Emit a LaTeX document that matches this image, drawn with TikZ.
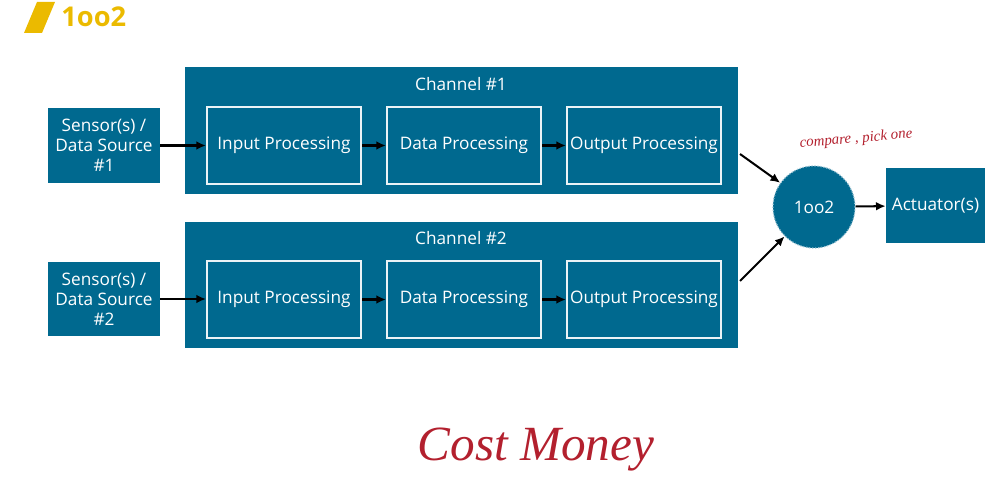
\documentclass[tikz,border=0pt]{standalone}
\usepackage{fontspec}
\setmainfont{Open Sans}
\newfontfamily\handfont{Liberation Serif}
\usetikzlibrary{arrows.meta}
\definecolor{chanblue}{HTML}{00698F}
\definecolor{titleyellow}{HTML}{EBBA00}
\definecolor{inkred}{HTML}{B3202E}

\begin{document}
\begin{tikzpicture}[%
  x=0.02cm, y=-0.02cm,
  every node/.style={font=\fontsize{9.8}{11.5}\selectfont, text=white, align=center, inner sep=0pt},
  chan/.style={fill=chanblue, minimum width=11.06cm, minimum height=2.54cm},
  stage/.style={draw=white!92!chanblue, line width=1.2pt, fill=chanblue, minimum width=3.08cm, minimum height=1.54cm},
  source/.style={fill=chanblue, minimum width=2.24cm, minimum height=1.5cm},
  vote/.style={circle, fill=chanblue, draw=white!55!chanblue, densely dotted, line width=0.7pt, minimum size=1.64cm},
  flow/.style={-{Latex[length=5.5pt,width=5pt]}, line width=1.15pt, black},
  ink/.style={text=inkred, font=\handfont\itshape}]
\useasboundingbox (0,0) rectangle (1004,496);
\fill[titleyellow] (37,2) -- (55,2) -- (42,33) -- (24,33) -- cycle;
\node[text=titleyellow, font=\fontsize{15.5}{17}\selectfont\bfseries, anchor=west] (title) at (61,17) {1oo2};
\node[chan] (chanA) at (461.5,130.5) {};
\node[chan] (chanB) at (461.5,285) {};
\node (labA) at (461,84) {Channel \#1};
\node (labB) at (461,238) {Channel \#2};
\node[source] (sensA) at (104,145.5) {Sensor(s) /\\Data Source\\\#1};
\node[source] (sensB) at (104,299) {Sensor(s) /\\Data Source\\\#2};
\node[stage] (inA) at (284,145.5) {Input Processing};
\node[stage] (dataA) at (464,145.5) {Data Processing};
\node[stage] (outA) at (644,145.5) {Output Processing};
\node[stage] (inB) at (284,299.5) {Input Processing};
\node[stage] (dataB) at (464,299.5) {Data Processing};
\node[stage] (outB) at (644,299.5) {Output Processing};
\node[vote] (vote) at (814,207) {};
\node (votelab) at (vote) {1oo2};
\node[fill=chanblue, minimum width=1.98cm, minimum height=1.5cm] (act) at (935.5,205.5) {Actuator(s)};
\coordinate (fromA) at (740,154);
\coordinate (fromB) at (740,281);
\draw[flow] (sensA) -- (inA);
\draw[flow] (inA) -- (dataA);
\draw[flow] (dataA) -- (outA);
\draw[flow] (sensB.east) -- (inB.west |- sensB.east);
\draw[flow] (inB) -- (dataB);
\draw[flow] (dataB) -- (outB);
\draw[flow] (fromA) -- (vote);
\draw[flow] (fromB) -- (vote);
\draw[flow] (vote) -- (act);
\node[ink, font=\handfont\itshape\fontsize{8.5}{9}\selectfont, rotate=5] (note) at (856,139) {compare , pick one};
\node[ink, font=\handfont\itshape\fontsize{28}{30}\selectfont] (cost) at (536,450) {Cost Money};
\end{tikzpicture}
\end{document}
